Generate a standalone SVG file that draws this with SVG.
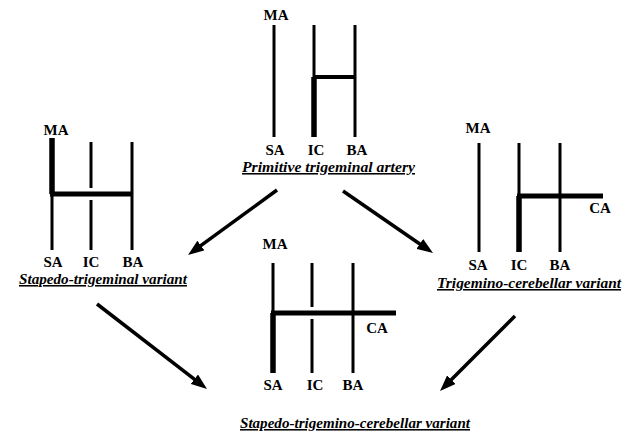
<svg xmlns="http://www.w3.org/2000/svg" width="635" height="434" viewBox="0 0 635 434">
<defs>
<style>
.lbl{font-family:"Liberation Serif","Times New Roman",serif;font-weight:bold;font-size:15px;fill:#000;text-anchor:middle}
.ttl{font-family:"Liberation Serif","Times New Roman",serif;font-weight:bold;font-style:italic;font-size:15.5px;fill:#000;text-decoration:underline}
.thin{stroke:#000;stroke-width:3;fill:none}
.thick{stroke:#000;stroke-width:5.5;fill:none}
.bar{stroke:#000;stroke-width:5;fill:none}
.arrow{stroke:#000;stroke-width:3.5;fill:none;marker-end:url(#ah)}
</style>
<marker id="ah" viewBox="0 0 16 12" refX="4" refY="6" markerWidth="16" markerHeight="12" markerUnits="userSpaceOnUse" orient="auto">
<path d="M0,0 L16,6 L0,12 z" fill="#000"/>
</marker>
</defs>
<rect width="635" height="434" fill="#fff"/>

<g id="primitive">
<text class="lbl" x="276" y="20">MA</text>
<line class="thin" x1="274" y1="25" x2="274" y2="137"/>
<line class="thin" x1="314" y1="25" x2="314" y2="77"/>
<line class="thick" x1="314" y1="77" x2="314" y2="137"/>
<line class="thin" x1="355" y1="25" x2="355" y2="137"/>
<line class="bar" x1="314" y1="77" x2="355" y2="77" style="stroke-width:4"/>
<text class="lbl" x="275" y="155">SA</text>
<text class="lbl" x="316" y="155">IC</text>
<text class="lbl" x="357" y="155">BA</text>
<text class="ttl" x="242" y="172" textLength="173" lengthAdjust="spacingAndGlyphs">Primitive trigeminal artery</text>
</g>

<g id="stapedo">
<text class="lbl" x="56" y="135">MA</text>
<line class="thick" x1="52" y1="138" x2="52" y2="194"/>
<line class="thin" x1="52" y1="194" x2="52" y2="250"/>
<line class="thin" x1="91" y1="142" x2="91" y2="188"/>
<line class="thin" x1="91" y1="200" x2="91" y2="250"/>
<line class="thin" x1="132" y1="142" x2="132" y2="250"/>
<line class="bar" x1="50" y1="194" x2="133" y2="194"/>
<text class="lbl" x="53" y="267">SA</text>
<text class="lbl" x="91" y="267">IC</text>
<text class="lbl" x="133" y="267">BA</text>
<text class="ttl" x="19" y="284" textLength="168" lengthAdjust="spacingAndGlyphs">Stapedo-trigeminal variant</text>
</g>

<g id="trigemino">
<text class="lbl" x="478" y="133">MA</text>
<line class="thin" x1="479" y1="143" x2="479" y2="252"/>
<line class="thin" x1="519" y1="143" x2="519" y2="196"/>
<line class="thick" x1="519" y1="196" x2="519" y2="252"/>
<line class="thin" x1="560" y1="143" x2="560" y2="252"/>
<line class="bar" x1="517" y1="196" x2="603" y2="196"/>
<text class="lbl" x="600" y="213">CA</text>
<text class="lbl" x="478" y="270">SA</text>
<text class="lbl" x="519" y="270">IC</text>
<text class="lbl" x="560" y="270">BA</text>
<text class="ttl" x="437" y="288" textLength="184" lengthAdjust="spacingAndGlyphs">Trigemino-cerebellar variant</text>
</g>

<g id="stapedo-trigemino">
<text class="lbl" x="275" y="249">MA</text>
<line class="thin" x1="273" y1="263" x2="273" y2="313"/>
<line class="thick" x1="273" y1="313" x2="273" y2="373"/>
<line class="thin" x1="312" y1="263" x2="312" y2="307"/>
<line class="thin" x1="312" y1="319" x2="312" y2="373"/>
<line class="thin" x1="353" y1="263" x2="353" y2="373"/>
<line class="bar" x1="271" y1="313" x2="396" y2="313"/>
<text class="lbl" x="377" y="333">CA</text>
<text class="lbl" x="273" y="390">SA</text>
<text class="lbl" x="315" y="390">IC</text>
<text class="lbl" x="353" y="390">BA</text>
<text class="ttl" x="240" y="428" textLength="230" lengthAdjust="spacingAndGlyphs">Stapedo-trigemino-cerebellar variant</text>
</g>

<g id="connectors">
<line class="arrow" x1="277" y1="190" x2="197.7" y2="247.9"/>
<line class="arrow" x1="343" y1="191" x2="423.1" y2="246.2"/>
<line class="arrow" x1="97" y1="304" x2="197.5" y2="381.7"/>
<line class="arrow" x1="515" y1="316" x2="448.5" y2="382.5"/>
</g>
</svg>
